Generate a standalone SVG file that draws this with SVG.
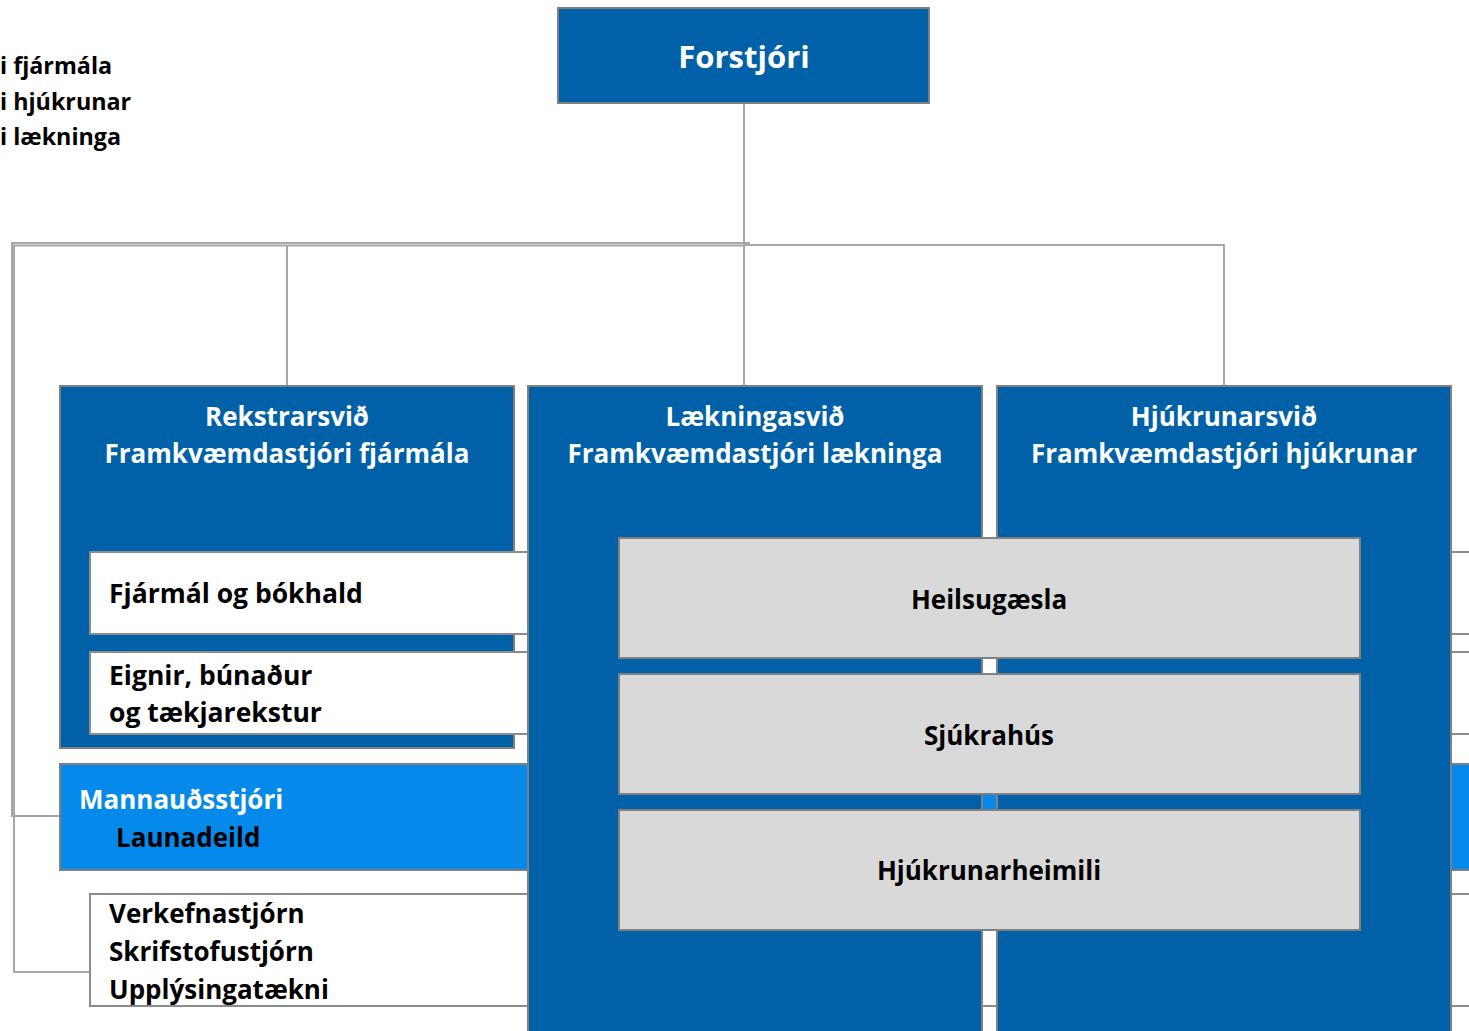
<svg xmlns="http://www.w3.org/2000/svg" width="1469" height="1031" viewBox="0 0 1469 1031">
<style>
  .t { font-family: "Open Sans", Lato, "Liberation Sans", sans-serif; font-weight: bold; font-variant-ligatures: none; font-size: 26px; }
  .w { fill: #ffffff; }
  .k { fill: #000000; }
  .dark { fill: #0061a8; stroke: #808080; stroke-width: 2; }
  .bright { fill: #058aeb; stroke: #808080; stroke-width: 2; }
  .white { fill: #ffffff; stroke: #8c8c8c; stroke-width: 2; }
  .grey { fill: #d9d9d9; stroke: #808080; stroke-width: 2; }
  .conn { fill: none; stroke: #a6a6a6; stroke-width: 2; }
</style>
<rect width="1469" height="1031" fill="#ffffff"/>

<g id="clipped-text">
  <text class="t k" x="0" y="74" style="font-size:23.3px">i fjármála</text>
  <text class="t k" x="0" y="110" style="font-size:23.3px">i hjúkrunar</text>
  <text class="t k" x="0" y="145" style="font-size:23.3px">i lækninga</text>
</g>

<g id="connectors">
  <polyline class="conn" points="744,103 744,386"/>
  <polyline class="conn" points="744,245 1224,245 1224,386"/>
  <polyline class="conn" points="750,243 12,243 12,816 60,816"/>
  <polyline class="conn" points="744,245.5 14,245.5 14,972 90,972"/>
  <polyline class="conn" points="287,245.5 287,386"/>
</g>

<g id="forstjori">
  <rect class="dark" x="558" y="8" width="371" height="95"/>
  <text class="t w" x="744" y="68" style="font-size:31px" text-anchor="middle">Forstjóri</text>
</g>

<g id="rekstrarsvid">
  <rect class="dark" x="60" y="386" width="454" height="362"/>
  <text class="t w" x="287" y="426" text-anchor="middle">Rekstrarsvið</text>
  <text class="t w" x="287" y="463" text-anchor="middle">Framkvæmdastjóri fjármála</text>
</g>

<g id="fjarmal">
  <rect class="white" x="90" y="552" width="1400" height="82"/>
  <text class="t k" x="109" y="603" style="font-size:26.5px">Fjármál og bókhald</text>
</g>

<g id="eignir">
  <rect class="white" x="90" y="652" width="1400" height="82"/>
  <text class="t k" x="109" y="685" style="font-size:26.5px">Eignir, búnaður</text>
  <text class="t k" x="109" y="722" style="font-size:26.5px">og tækjarekstur</text>
</g>

<g id="mannaud">
  <rect class="bright" x="60" y="764" width="1430" height="106"/>
  <text class="t w" x="79" y="809">Mannauðsstjóri</text>
  <text class="t k" x="116" y="847">Launadeild</text>
</g>

<g id="verkefna">
  <rect class="white" x="90" y="894" width="1400" height="112"/>
  <text class="t k" x="109" y="923">Verkefnastjórn</text>
  <text class="t k" x="109" y="961">Skrifstofustjórn</text>
  <text class="t k" x="109" y="999">Upplýsingatækni</text>
</g>

<g id="laekningasvid">
  <rect class="dark" x="528" y="386" width="454" height="660"/>
  <text class="t w" x="755" y="426" text-anchor="middle">Lækningasvið</text>
  <text class="t w" x="755" y="463" text-anchor="middle">Framkvæmdastjóri lækninga</text>
</g>

<g id="hjukrunarsvid">
  <rect class="dark" x="997" y="386" width="454" height="660"/>
  <text class="t w" x="1224" y="426" text-anchor="middle">Hjúkrunarsvið</text>
  <text class="t w" x="1224" y="463" text-anchor="middle">Framkvæmdastjóri hjúkrunar</text>
</g>

<g id="heilsugaesla">
  <rect class="grey" x="619" y="538" width="741" height="120"/>
  <text class="t k" x="989" y="609" text-anchor="middle">Heilsugæsla</text>
</g>

<g id="sjukrahus">
  <rect class="grey" x="619" y="674" width="741" height="120"/>
  <text class="t k" x="989" y="745" text-anchor="middle">Sjúkrahús</text>
</g>

<g id="hjukrunarheimili">
  <rect class="grey" x="619" y="810" width="741" height="120"/>
  <text class="t k" x="989" y="880" text-anchor="middle">Hjúkrunarheimili</text>
</g>
</svg>
